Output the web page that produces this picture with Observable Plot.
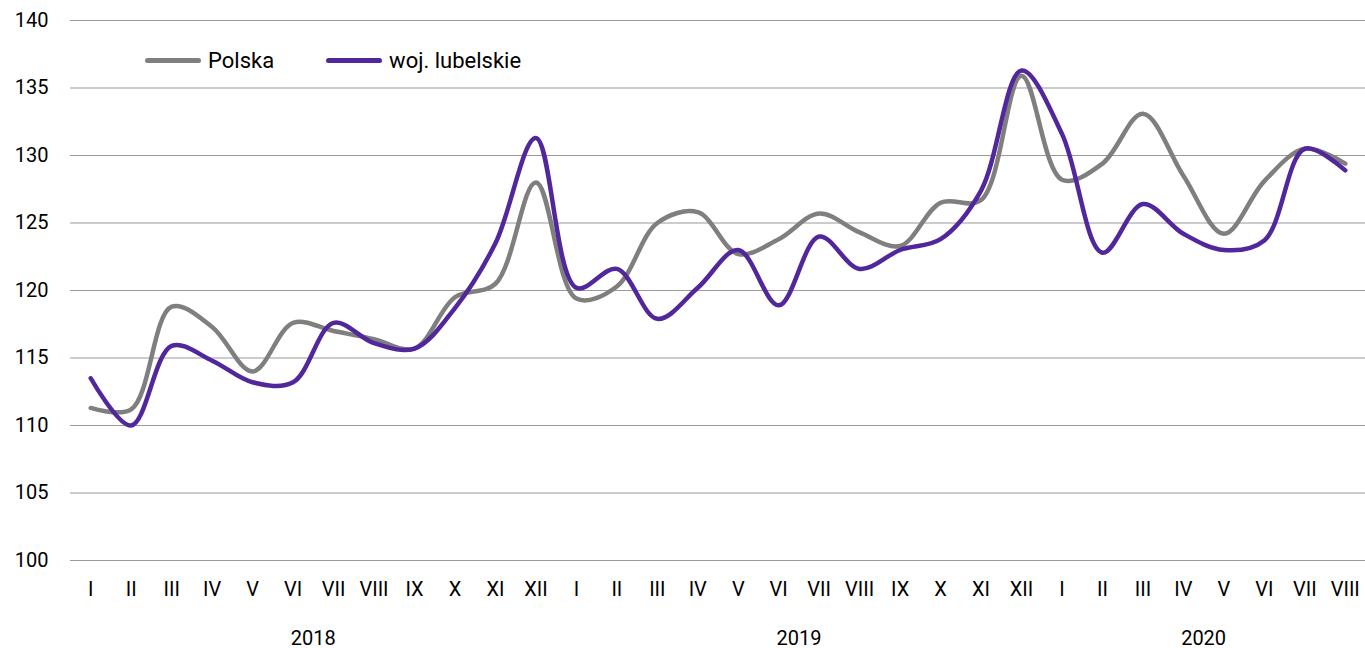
<!DOCTYPE html>
<html><head><meta charset="utf-8">
<script src="https://cdn.jsdelivr.net/npm/d3@7"></script>
<script src="https://cdn.jsdelivr.net/npm/@observablehq/plot@0.6"></script>
<style>
body{margin:0;background:#fff;}
#wrap{position:relative;width:1365px;height:648px;font-family:Roboto,"Noto Sans",sans-serif;}
#legend{position:absolute;top:48px;left:145px;display:flex;align-items:center;font-size:22px;color:#000;}
.item{display:flex;align-items:center;margin-right:52px;}
.sw{display:inline-block;width:56px;height:5px;border-radius:3px;margin-right:7px;}
</style></head>
<body><div id="wrap"><div id="legend"></div></div>
<script>
const months = ["I","II","III","IV","V","VI","VII","VIII","IX","X","XI","XII",
  "I","II","III","IV","V","VI","VII","VIII","IX","X","XI","XII",
  "I","II","III","IV","V","VI","VII","VIII"];
const years = ["2018","2019","2020"];
const yearMonthCounts = [12,12,8];
const polska = [111.3,111.2,118.8,117.3,114.0,117.6,117.0,116.4,115.7,119.5,120.5,128.0,
  119.4,120.3,125.0,125.8,122.7,123.8,125.7,124.3,123.3,126.5,126.7,135.9,
  128.2,129.4,133.1,128.5,124.2,128.1,130.5,129.4];
const lubelskie = [113.5,110.0,115.9,114.8,113.2,113.2,117.6,116.1,115.7,118.7,123.5,131.3,
  120.2,121.6,117.9,120.2,123.0,118.9,124.0,121.6,123.0,123.8,127.4,136.3,
  131.6,122.8,126.4,124.2,123.0,123.7,130.5,128.9];
const seriesNames = ["Polska","woj. lubelskie"];
const colors = ["#7f7f7f","#52279b"];
const yTicks = [100,105,110,115,120,125,130,135,140];

const data = [];
polska.forEach((v,i)=>data.push({i, v, s: seriesNames[0]}));
lubelskie.forEach((v,i)=>data.push({i, v, s: seriesNames[1]}));

let start = 0;
const yearData = years.map((y,k)=>{ const c = start + (yearMonthCounts[k]-1)/2; start += yearMonthCounts[k]; return {y, c}; });

const chart = Plot.plot({
  width: 1365, height: 648,
  marginLeft: 70, marginRight: 0, marginTop: 20, marginBottom: 88,
  style: {fontFamily: "Roboto, 'Noto Sans', sans-serif", fontSize: "20px", color: "#000", background: "#fff"},
  x: {type: "linear", domain: [-0.5, months.length - 0.5]},
  y: {domain: [100, 140]},
  color: {domain: seriesNames, range: colors},
  marks: [
    Plot.ruleY(yTicks, {stroke: "#9a9a9a", strokeWidth: 1.2}),
    Plot.axisY({ticks: yTicks, tickSize: 0, tickPadding: 22, label: null, fontSize: 20}),
    Plot.axisX({ticks: d3.range(months.length), tickFormat: i => months[i], tickSize: 0, tickPadding: 21, label: null, fontSize: 20}),
    Plot.text(yearData, {x: "c", text: "y", frameAnchor: "bottom", dy: 84, fontSize: 20}),
    Plot.line(data, {x: "i", y: "v", z: "s", stroke: "s", strokeWidth: 4.5, curve: "catmull-rom"})
  ]
});
document.getElementById("wrap").prepend(chart);

const leg = document.getElementById("legend");
seriesNames.forEach((n,k)=>{
  const it = document.createElement("div"); it.className = "item";
  const sw = document.createElement("span"); sw.className = "sw"; sw.style.background = colors[k];
  const t = document.createElement("span"); t.textContent = n;
  it.append(sw, t); leg.append(it);
});
</script></body></html>
